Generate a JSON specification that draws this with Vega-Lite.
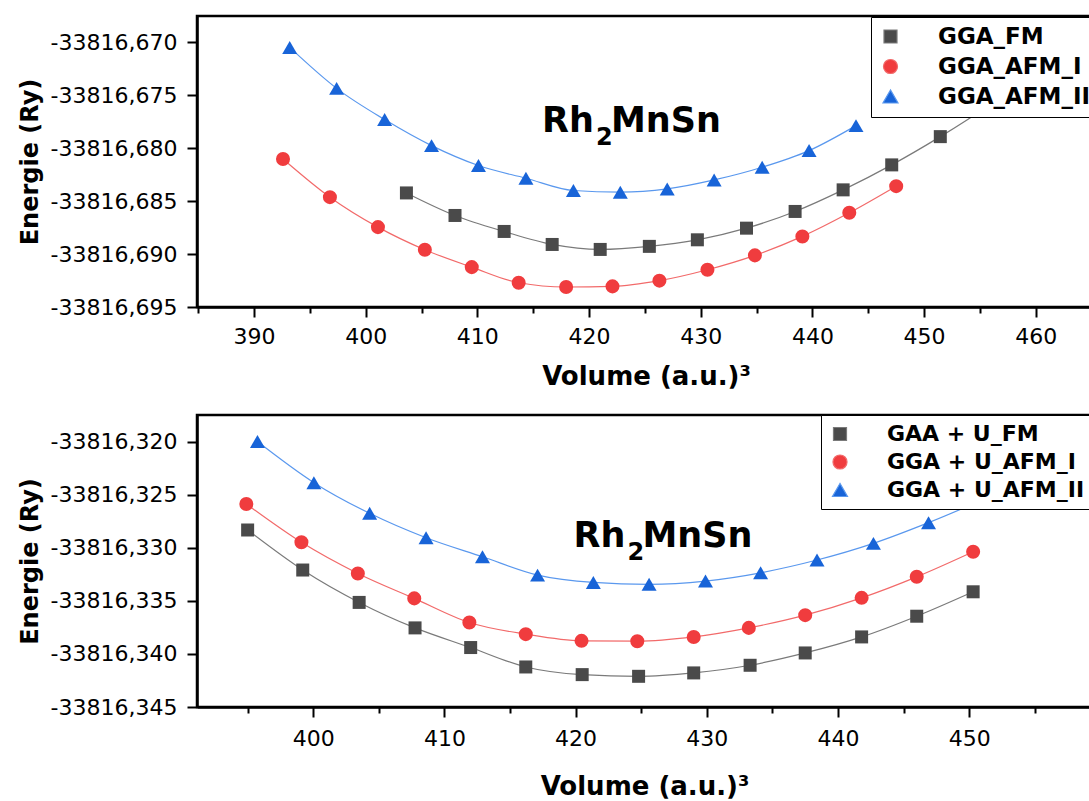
{
  "$schema": "https://vega.github.io/schema/vega-lite/v6.json",
  "padding": {"left": 16, "top": 14, "right": 0, "bottom": 0},
  "background": "white",
  "spacing": 22,
  "resolve": {"scale": {"fill": "independent", "stroke": "independent", "shape": "independent", "size": "independent"}, "legend": {"fill": "independent", "stroke": "independent", "shape": "independent"}},
  "config": {
    "locale": {"number": {"decimal": ",", "thousands": ".", "grouping": [3], "currency": ["", ""], "minus": "-"}},
    "view": {"stroke": "black", "strokeWidth": 2.5},
    "axis": {
      "grid": false,
      "domainColor": "black",
      "domainWidth": 2.5,
      "tickColor": "black",
      "tickWidth": 2,
      "labelFont": "DejaVu Sans",
      "labelFontSize": 22,
      "labelColor": "black",
      "titleFont": "DejaVu Sans",
      "titleFontWeight": "bold",
      "titleColor": "black"
    },
    "legend": {
      "labelFont": "DejaVu Sans",
      "labelFontWeight": "bold",
      "labelColor": "black",
      "strokeColor": "black",
      "fillColor": "white",
      "padding": 8,
      "rowPadding": 6,
      "symbolSize": 576,
      "labelOffset": 36,
      "symbolStrokeWidth": 1.2,
      "labelLimit": 400,
      "cornerRadius": 0
    }
  },
  "datasets": {
    "top": [
      {"series": "GGA_FM", "volume": 403.65, "energy": -33816.68422},
      {"series": "GGA_FM", "volume": 408.0, "energy": -33816.68635},
      {"series": "GGA_FM", "volume": 412.4, "energy": -33816.68786},
      {"series": "GGA_FM", "volume": 416.7, "energy": -33816.68909},
      {"series": "GGA_FM", "volume": 421.0, "energy": -33816.68956},
      {"series": "GGA_FM", "volume": 425.4, "energy": -33816.68927},
      {"series": "GGA_FM", "volume": 429.7, "energy": -33816.68865},
      {"series": "GGA_FM", "volume": 434.1, "energy": -33816.68755},
      {"series": "GGA_FM", "volume": 438.45, "energy": -33816.68597},
      {"series": "GGA_FM", "volume": 442.75, "energy": -33816.68393},
      {"series": "GGA_FM", "volume": 447.1, "energy": -33816.68157},
      {"series": "GGA_FM", "volume": 451.45, "energy": -33816.6789},
      {"series": "GGA_FM", "volume": 455.8, "energy": -33816.67595},
      {"series": "GGA_FM", "volume": 460.1, "energy": -33816.6727},
      {"series": "GGA_AFM_I", "volume": 392.6, "energy": -33816.68101},
      {"series": "GGA_AFM_I", "volume": 396.8, "energy": -33816.68462},
      {"series": "GGA_AFM_I", "volume": 401.1, "energy": -33816.68745},
      {"series": "GGA_AFM_I", "volume": 405.3, "energy": -33816.68959},
      {"series": "GGA_AFM_I", "volume": 409.5, "energy": -33816.69123},
      {"series": "GGA_AFM_I", "volume": 413.7, "energy": -33816.69271},
      {"series": "GGA_AFM_I", "volume": 417.95, "energy": -33816.69311},
      {"series": "GGA_AFM_I", "volume": 422.1, "energy": -33816.69305},
      {"series": "GGA_AFM_I", "volume": 426.3, "energy": -33816.69251},
      {"series": "GGA_AFM_I", "volume": 430.6, "energy": -33816.69148},
      {"series": "GGA_AFM_I", "volume": 434.85, "energy": -33816.69012},
      {"series": "GGA_AFM_I", "volume": 439.1, "energy": -33816.68833},
      {"series": "GGA_AFM_I", "volume": 443.3, "energy": -33816.6861},
      {"series": "GGA_AFM_I", "volume": 447.5, "energy": -33816.68358},
      {"series": "GGA_AFM_II", "volume": 393.2, "energy": -33816.67047},
      {"series": "GGA_AFM_II", "volume": 397.4, "energy": -33816.67434},
      {"series": "GGA_AFM_II", "volume": 401.7, "energy": -33816.67729},
      {"series": "GGA_AFM_II", "volume": 405.9, "energy": -33816.67975},
      {"series": "GGA_AFM_II", "volume": 410.1, "energy": -33816.68163},
      {"series": "GGA_AFM_II", "volume": 414.35, "energy": -33816.68283},
      {"series": "GGA_AFM_II", "volume": 418.6, "energy": -33816.68399},
      {"series": "GGA_AFM_II", "volume": 422.8, "energy": -33816.68415},
      {"series": "GGA_AFM_II", "volume": 427.0, "energy": -33816.68384},
      {"series": "GGA_AFM_II", "volume": 431.2, "energy": -33816.68299},
      {"series": "GGA_AFM_II", "volume": 435.5, "energy": -33816.68179},
      {"series": "GGA_AFM_II", "volume": 439.7, "energy": -33816.68022},
      {"series": "GGA_AFM_II", "volume": 443.9, "energy": -33816.67786}
    ],
    "bottom": [
      {"series": "GAA + U_FM", "volume": 395.0, "energy": -33816.32833},
      {"series": "GAA + U_FM", "volume": 399.2, "energy": -33816.3321},
      {"series": "GAA + U_FM", "volume": 403.5, "energy": -33816.33515},
      {"series": "GAA + U_FM", "volume": 407.76, "energy": -33816.33755},
      {"series": "GAA + U_FM", "volume": 412.0, "energy": -33816.3394},
      {"series": "GAA + U_FM", "volume": 416.2, "energy": -33816.34123},
      {"series": "GAA + U_FM", "volume": 420.5, "energy": -33816.34195},
      {"series": "GAA + U_FM", "volume": 424.8, "energy": -33816.34211},
      {"series": "GAA + U_FM", "volume": 429.0, "energy": -33816.34179},
      {"series": "GAA + U_FM", "volume": 433.3, "energy": -33816.34107},
      {"series": "GAA + U_FM", "volume": 437.5, "energy": -33816.33991},
      {"series": "GAA + U_FM", "volume": 441.8, "energy": -33816.3384},
      {"series": "GAA + U_FM", "volume": 446.0, "energy": -33816.33645},
      {"series": "GAA + U_FM", "volume": 450.3, "energy": -33816.33415},
      {"series": "GGA + U_AFM_I", "volume": 394.9, "energy": -33816.32588},
      {"series": "GGA + U_AFM_I", "volume": 399.1, "energy": -33816.32949},
      {"series": "GGA + U_AFM_I", "volume": 403.4, "energy": -33816.33242},
      {"series": "GGA + U_AFM_I", "volume": 407.7, "energy": -33816.33477},
      {"series": "GGA + U_AFM_I", "volume": 411.9, "energy": -33816.33704},
      {"series": "GGA + U_AFM_I", "volume": 416.2, "energy": -33816.33814},
      {"series": "GGA + U_AFM_I", "volume": 420.45, "energy": -33816.33877},
      {"series": "GGA + U_AFM_I", "volume": 424.7, "energy": -33816.3388},
      {"series": "GGA + U_AFM_I", "volume": 429.0, "energy": -33816.3384},
      {"series": "GGA + U_AFM_I", "volume": 433.2, "energy": -33816.33755},
      {"series": "GGA + U_AFM_I", "volume": 437.5, "energy": -33816.33635},
      {"series": "GGA + U_AFM_I", "volume": 441.8, "energy": -33816.33472},
      {"series": "GGA + U_AFM_I", "volume": 446.0, "energy": -33816.33274},
      {"series": "GGA + U_AFM_I", "volume": 450.3, "energy": -33816.33038},
      {"series": "GGA + U_AFM_II", "volume": 395.75, "energy": -33816.32},
      {"series": "GGA + U_AFM_II", "volume": 400.05, "energy": -33816.32387},
      {"series": "GGA + U_AFM_II", "volume": 404.3, "energy": -33816.32676},
      {"series": "GGA + U_AFM_II", "volume": 408.6, "energy": -33816.32906},
      {"series": "GGA + U_AFM_II", "volume": 412.9, "energy": -33816.33085},
      {"series": "GGA + U_AFM_II", "volume": 417.1, "energy": -33816.33258},
      {"series": "GGA + U_AFM_II", "volume": 421.35, "energy": -33816.33327},
      {"series": "GGA + U_AFM_II", "volume": 425.6, "energy": -33816.33345},
      {"series": "GGA + U_AFM_II", "volume": 429.9, "energy": -33816.33314},
      {"series": "GGA + U_AFM_II", "volume": 434.1, "energy": -33816.33236},
      {"series": "GGA + U_AFM_II", "volume": 438.4, "energy": -33816.33116},
      {"series": "GGA + U_AFM_II", "volume": 442.7, "energy": -33816.32959},
      {"series": "GGA + U_AFM_II", "volume": 446.9, "energy": -33816.32764},
      {"series": "GGA + U_AFM_II", "volume": 451.2, "energy": -33816.3254}
    ],
    "rh": [{"label": "Rh"}],
    "sub": [{"label": "2"}],
    "mnsn": [{"label": "MnSn"}]
  },
  "vconcat": [
    {
      "width": 898,
      "height": 291,
      "layer": [
        {
          "data": {"name": "top"},
          "mark": {"type": "line", "strokeWidth": 1.2, "interpolate": "monotone"},
          "encoding": {
            "x": {"field": "volume", "type": "quantitative", "scale": {"domain": [384.9, 465.3], "zero": false, "nice": false},
              "axis": {"title": "Volume (a.u.)³", "titleFontSize": 26, "titlePadding": 16, "labelPadding": 9,
                "values": [385, 390, 395, 400, 405, 410, 415, 420, 425, 430, 435, 440, 445, 450, 455, 460, 465],
                "labelExpr": "datum.value % 10 == 0 ? datum.label : ''",
                "tickSize": {"condition": {"test": "datum.value % 10 == 0", "value": 10}, "value": 6}}},
            "y": {"field": "energy", "type": "quantitative", "scale": {"domain": [-33816.695, -33816.6675], "zero": false, "nice": false},
              "axis": {"title": "Energie (Ry)", "titleFontSize": 24, "titlePadding": 8, "labelPadding": 10, "format": ".3f",
                "values": [-33816.695, -33816.6925, -33816.69, -33816.6875, -33816.685, -33816.6825, -33816.68, -33816.6775, -33816.675, -33816.6725, -33816.67],
                "labelExpr": "abs(round(datum.value*1000)) % 5 == 0 ? datum.label : ''",
                "tickSize": {"condition": {"test": "abs(round(datum.value*1000)) % 5 == 0", "value": 10}, "value": 6}}},
            "stroke": {"field": "series", "type": "nominal", "scale": {"domain": ["GGA_FM", "GGA_AFM_I", "GGA_AFM_II"], "range": ["#7a7a7a", "#f26a6a", "#5a98ee"]}, "legend": {"title": null}}
          }
        },
        {
          "data": {"name": "top"},
          "mark": {"type": "point", "filled": true, "opacity": 1},
          "encoding": {
            "x": {"field": "volume", "type": "quantitative"},
            "y": {"field": "energy", "type": "quantitative"},
            "fill": {"field": "series", "type": "nominal", "scale": {"domain": ["GGA_FM", "GGA_AFM_I", "GGA_AFM_II"], "range": ["#4a4a4a", "#f03c3e", "#1864d8"]}, "legend": {"title": null}},
            "shape": {"field": "series", "type": "nominal", "scale": {"domain": ["GGA_FM", "GGA_AFM_I", "GGA_AFM_II"], "range": ["square", "circle", "triangle-up"]},
              "legend": {"title": null, "orient": "none", "legendX": 674, "legendY": 1, "labelFontSize": 23}},
            "size": {"field": "series", "type": "nominal", "scale": {"domain": ["GGA_FM", "GGA_AFM_I", "GGA_AFM_II"], "range": [169, 225, 300]}, "legend": null}
          }
        },
        {
          "data": {"name": "rh"},
          "mark": {"type": "text", "font": "DejaVu Sans", "fontWeight": "bold", "fontSize": 35, "align": "right", "baseline": "alphabetic", "color": "black"},
          "encoding": {
            "text": {"field": "label"},
            "x": {"datum": 420.44, "type": "quantitative"},
            "y": {"datum": -33816.67849, "type": "quantitative"}
          }
        },
        {
          "data": {"name": "sub"},
          "mark": {"type": "text", "font": "DejaVu Sans", "fontWeight": "bold", "fontSize": 24, "align": "left", "baseline": "alphabetic", "color": "black"},
          "encoding": {
            "text": {"field": "label"},
            "x": {"datum": 420.62, "type": "quantitative"},
            "y": {"datum": -33816.67972, "type": "quantitative"}
          }
        },
        {
          "data": {"name": "mnsn"},
          "mark": {"type": "text", "font": "DejaVu Sans", "fontWeight": "bold", "fontSize": 35, "align": "left", "baseline": "alphabetic", "color": "black"},
          "encoding": {
            "text": {"field": "label"},
            "x": {"datum": 421.96, "type": "quantitative"},
            "y": {"datum": -33816.67849, "type": "quantitative"}
          }
        }
      ]
    },
    {
      "width": 895,
      "height": 292,
      "layer": [
        {
          "data": {"name": "bottom"},
          "mark": {"type": "line", "strokeWidth": 1.2, "interpolate": "monotone"},
          "encoding": {
            "x": {"field": "volume", "type": "quantitative", "scale": {"domain": [391.14, 459.36], "zero": false, "nice": false},
              "axis": {"title": "Volume (a.u.)³", "titleFontSize": 26, "titlePadding": 24, "labelPadding": 11,
                "values": [395, 400, 405, 410, 415, 420, 425, 430, 435, 440, 445, 450, 455],
                "labelExpr": "datum.value % 10 == 0 ? datum.label : ''",
                "tickSize": {"condition": {"test": "datum.value % 10 == 0", "value": 10}, "value": 6}}},
            "y": {"field": "energy", "type": "quantitative", "scale": {"domain": [-33816.345, -33816.3175], "zero": false, "nice": false},
              "axis": {"title": "Energie (Ry)", "titleFontSize": 24, "titlePadding": 8, "labelPadding": 10, "format": ".3f",
                "values": [-33816.345, -33816.3425, -33816.34, -33816.3375, -33816.335, -33816.3325, -33816.33, -33816.3275, -33816.325, -33816.3225, -33816.32],
                "labelExpr": "abs(round(datum.value*1000)) % 5 == 0 ? datum.label : ''",
                "tickSize": {"condition": {"test": "abs(round(datum.value*1000)) % 5 == 0", "value": 10}, "value": 6}}},
            "stroke": {"field": "series", "type": "nominal", "scale": {"domain": ["GAA + U_FM", "GGA + U_AFM_I", "GGA + U_AFM_II"], "range": ["#7a7a7a", "#f26a6a", "#5a98ee"]}, "legend": {"title": null}}
          }
        },
        {
          "data": {"name": "bottom"},
          "mark": {"type": "point", "filled": true, "opacity": 1},
          "encoding": {
            "x": {"field": "volume", "type": "quantitative"},
            "y": {"field": "energy", "type": "quantitative"},
            "fill": {"field": "series", "type": "nominal", "scale": {"domain": ["GAA + U_FM", "GGA + U_AFM_I", "GGA + U_AFM_II"], "range": ["#4a4a4a", "#f03c3e", "#1864d8"]}, "legend": {"title": null}},
            "shape": {"field": "series", "type": "nominal", "scale": {"domain": ["GAA + U_FM", "GGA + U_AFM_I", "GGA + U_AFM_II"], "range": ["square", "circle", "triangle-up"]},
              "legend": {"title": null, "orient": "none", "legendX": 624, "legendY": 0, "labelFontSize": 22}},
            "size": {"field": "series", "type": "nominal", "scale": {"domain": ["GAA + U_FM", "GGA + U_AFM_I", "GGA + U_AFM_II"], "range": [169, 225, 300]}, "legend": null}
          }
        },
        {
          "data": {"name": "rh"},
          "mark": {"type": "text", "font": "DejaVu Sans", "fontWeight": "bold", "fontSize": 35, "align": "right", "baseline": "alphabetic", "color": "black"},
          "encoding": {
            "text": {"field": "label"},
            "x": {"datum": 423.8, "type": "quantitative"},
            "y": {"datum": -33816.32991, "type": "quantitative"}
          }
        },
        {
          "data": {"name": "sub"},
          "mark": {"type": "text", "font": "DejaVu Sans", "fontWeight": "bold", "fontSize": 24, "align": "left", "baseline": "alphabetic", "color": "black"},
          "encoding": {
            "text": {"field": "label"},
            "x": {"datum": 423.96, "type": "quantitative"},
            "y": {"datum": -33816.33113, "type": "quantitative"}
          }
        },
        {
          "data": {"name": "mnsn"},
          "mark": {"type": "text", "font": "DejaVu Sans", "fontWeight": "bold", "fontSize": 35, "align": "left", "baseline": "alphabetic", "color": "black"},
          "encoding": {
            "text": {"field": "label"},
            "x": {"datum": 425.1, "type": "quantitative"},
            "y": {"datum": -33816.32991, "type": "quantitative"}
          }
        }
      ]
    }
  ]
}
